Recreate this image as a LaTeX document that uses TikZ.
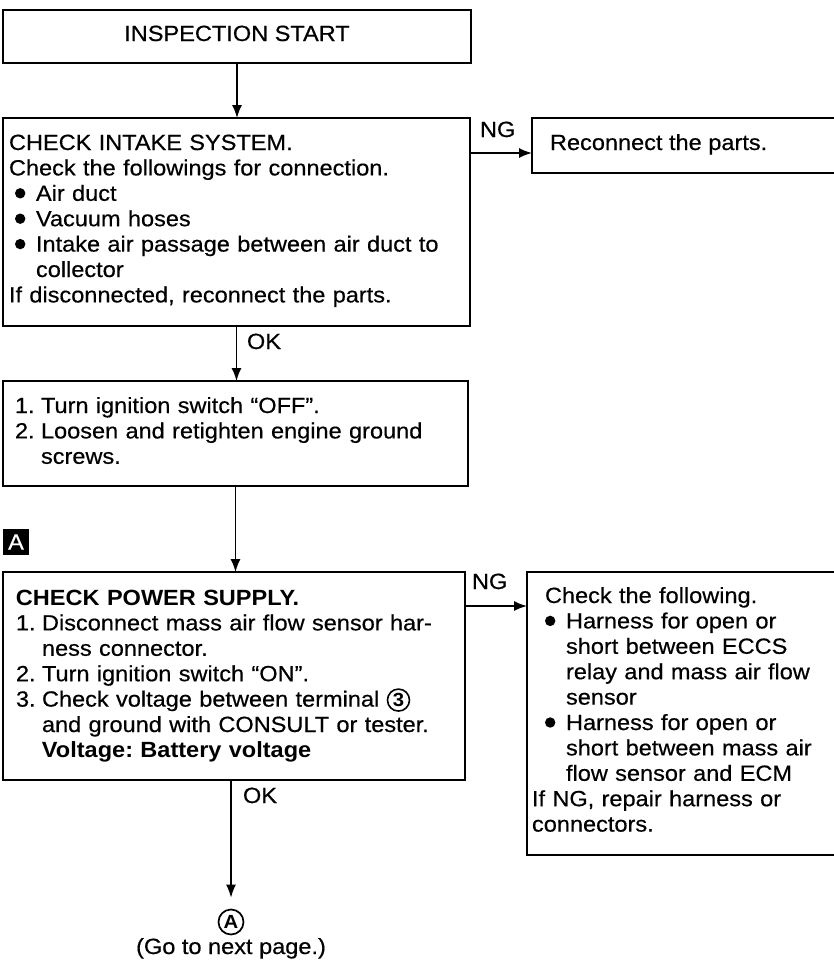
\documentclass[tikz,border=0pt]{standalone}
\usepackage{fontspec}
\setmainfont{Liberation Sans}[FakeStretch=1.07, UprightFeatures={FakeBold=0.5}]
\usetikzlibrary{arrows.meta}
\frenchspacing
\newcommand{\bdot}{\tikz[baseline=0pt]\fill[black] (0pt,7.5pt) circle[radius=5.2pt];}
\newcommand{\circnum}[1]{\tikz[baseline=(cn.base)]\node[circle,draw,line width=1.6pt,minimum size=22pt,inner sep=0pt,font=\bfseries\fontsize{19}{22}\selectfont](cn){#1};}
\begin{document}
\begin{tikzpicture}[x=1pt,y=-1pt,
  box/.style={draw=black, line width=1.5pt, rectangle, inner sep=0pt, outer sep=0pt, anchor=north west},
  txt/.style={font=\fontsize{22}{25.4}\selectfont, align=left, text width=460pt, inner sep=0pt, outer sep=0pt, anchor=north west},
  lbl/.style={font=\fontsize{22}{25.4}\selectfont, inner sep=0pt, outer sep=0pt, anchor=base west},
  arr/.style={line width=1.5pt, -{Latex[length=13pt,width=10pt]}},
]
\useasboundingbox (0,0) rectangle (833,961);

% box 1
\node[box, minimum width=468pt, minimum height=53pt] (b1) at (3,10) {};
\node[lbl, anchor=base] (t1) at (237,41) {INSPECTION START};

% box 2
\node[box, minimum width=467pt, minimum height=208pt] (b2) at (3,118) {};
\node[txt] (t2) at (9,130) {\rule{0pt}{20pt}CHECK INTAKE SYSTEM.\\
Check the followings for connection.\\
\makebox[27pt][l]{\hspace{6pt}\bdot}Air duct\\
\makebox[27pt][l]{\hspace{6pt}\bdot}Vacuum hoses\\
\makebox[27pt][l]{\hspace{6pt}\bdot}Intake air passage between air duct to\\
\hspace*{27pt}collector\\
If disconnected, reconnect the parts.};

% reconnect box
\node[box, minimum width=304pt, minimum height=55pt] (rc) at (532,118) {};
\node[lbl] (trc) at (550,150) {Reconnect the parts.};

% box 3
\node[box, minimum width=465pt, minimum height=105pt] (b3) at (3,381) {};
\node[txt] (t3) at (15,393) {\rule{0pt}{20pt}\makebox[26pt][l]{1.}Turn ignition switch “OFF”.\\
\makebox[26pt][l]{2.}Loosen and retighten engine ground\\
\hspace*{26pt}screws.};

% marker A
\node[fill=black, minimum size=26pt, inner sep=0pt, outer sep=0pt, anchor=north west, text=white, font=\fontsize{22}{22}\selectfont] (mk) at (3,529) {A};

% box 4
\node[box, minimum width=462pt, minimum height=208pt] (b4) at (3,572) {};
\node[txt] (t4) at (16,585) {\rule{0pt}{20pt}\textbf{CHECK POWER SUPPLY.}\\
\makebox[26pt][l]{1.}Disconnect mass air flow sensor har-\\
\hspace*{26pt}ness connector.\\
\makebox[26pt][l]{2.}Turn ignition switch “ON”.\\
\makebox[26pt][l]{3.}Check voltage between terminal \circnum{3}\\
\hspace*{26pt}and ground with CONSULT or tester.\\
\hspace*{26pt}\textbf{Voltage: Battery voltage}};

% box 5
\node[box, minimum width=309pt, minimum height=283pt] (b5) at (527,572) {};
\node[txt, text width=295pt] (t5) at (532,583) {\rule{0pt}{20pt}\hspace*{13pt}Check the following.\\
\hspace*{13pt}\makebox[21pt][l]{\bdot}Harness for open or\\
\hspace*{34pt}short between ECCS\\
\hspace*{34pt}relay and mass air flow\\
\hspace*{34pt}sensor\\
\hspace*{13pt}\makebox[21pt][l]{\bdot}Harness for open or\\
\hspace*{34pt}short between mass air\\
\hspace*{34pt}flow sensor and ECM\\
If NG, repair harness or\\
connectors.};

% go to next page
\node[circle, draw, line width=1.7pt, minimum size=25pt, inner sep=0pt, font=\bfseries\fontsize{19}{22}\selectfont] (go) at (231,922) {A};
\node[lbl, anchor=base] (gt) at (231,954) {(Go to next page.)};

% labels
\node[lbl] (ng1) at (480,137) {NG};
\node[lbl] (ng2) at (472,589) {NG};
\node[lbl] (ok1) at (247,349) {OK};
\node[lbl] (ok2) at (243,803) {OK};

% connectors
\draw[arr] (b1.south) -- (b1.south |- b2.north);
\draw[arr] (b2.south) -- (b2.south |- b3.north);
\draw[arr] (b3.south) -- (b3.south |- b4.north);
\draw[arr, shorten >=11pt] (go |- b4.south) -- (go.north);
\coordinate (n1) at (470,153);
\draw[arr] (n1) -- (n1 -| rc.west);
\coordinate (n2) at (465,606);
\draw[arr] (n2) -- (n2 -| b5.west);
\end{tikzpicture}
\end{document}
